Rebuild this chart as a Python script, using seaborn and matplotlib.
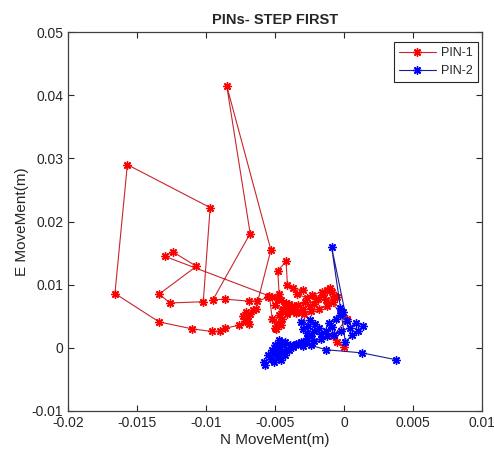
import numpy as np
import pandas as pd
import matplotlib
matplotlib.use('Agg')
import matplotlib.pyplot as plt
import seaborn as sns

# PIN-1 track (N, E in metres)
pin1_n = [-0.0040, -0.0043, -0.0038, -0.0045, -0.0041, -0.0035, -0.0030, -0.0033,
          -0.0028, -0.0025, -0.0022, -0.0019, -0.0023, -0.0016, -0.0012, -0.0010,
          -0.0007, -0.0013, -0.0020, -0.0027, -0.0034, -0.0030, -0.0037, -0.0041,
          -0.0042, -0.0048, -0.0047, -0.0052, -0.0046, -0.0050, -0.0044, -0.0047,
          -0.0045, -0.0048, -0.0050, -0.0046, -0.0049, -0.0052, -0.0054, -0.0130,
          -0.0124, -0.0107, -0.0134, -0.0126, -0.0102, -0.0097, -0.0157, -0.0166,
          -0.0134, -0.0110, -0.0096, -0.0090, -0.0086, -0.0076, -0.0069, -0.0070,
          -0.0073, -0.0071, -0.0068, -0.0070, -0.0072, -0.0066, -0.0064, -0.0053,
          -0.0085, -0.0068, -0.0095, -0.0086, -0.0069, -0.0063, -0.0055, -0.0048,
          -0.0042, -0.0036, -0.0039, -0.0033, -0.0029, -0.0024, -0.0018, -0.0012,
          -0.0008, -0.0005, -0.0009, -0.0015, 0.0002, -0.0008, 0.0000, -0.0005]
pin1_e = [0.0070, 0.0065, 0.0060, 0.0058, 0.0053, 0.0055, 0.0062, 0.0068,
          0.0072, 0.0066, 0.0070, 0.0078, 0.0083, 0.0089, 0.0092, 0.0095,
          0.0082, 0.0075, 0.0077, 0.0079, 0.0085, 0.0092, 0.0094, 0.0100,
          0.0137, 0.0122, 0.0085, 0.0080, 0.0075, 0.0068, 0.0062, 0.0052,
          0.0046, 0.0040, 0.0032, 0.0036, 0.0030, 0.0045, 0.0082, 0.0145,
          0.0152, 0.0129, 0.0085, 0.0071, 0.0073, 0.0222, 0.0290, 0.0086,
          0.0041, 0.0030, 0.0026, 0.0026, 0.0031, 0.0036, 0.0037, 0.0045,
          0.0051, 0.0056, 0.0053, 0.0048, 0.0043, 0.0060, 0.0061, 0.0155,
          0.0415, 0.0181, 0.0076, 0.0077, 0.0074, 0.0074, 0.0080, 0.0078,
          0.0071, 0.0066, 0.0059, 0.0057, 0.0053, 0.0058, 0.0062, 0.0066,
          0.0073, 0.0080, 0.0088, 0.0084, 0.0046, 0.0018, 0.0001, 0.0009]

# PIN-2 track
pin2_n = [-0.0057, -0.0058, -0.0053, -0.0055, -0.0050, -0.0052, -0.0048, -0.0050,
          -0.0046, -0.0047, -0.0043, -0.0045, -0.0042, -0.0046, -0.0048, -0.0051,
          -0.0046, -0.0043, -0.0040, -0.0039, -0.0035, -0.0031, -0.0027, -0.0024,
          -0.0027, -0.0030, -0.0026, -0.0031, -0.0025, -0.0021, -0.0018, -0.0022,
          -0.0017, -0.0013, -0.0009, -0.0011, -0.0006, -0.0003, -0.0003, -0.0001,
          0.0002, -0.0009, 0.0001, 0.0006, 0.0010, 0.0014, 0.0009, 0.0004,
          -0.0002, -0.0007, -0.0012, -0.0017, -0.0022, -0.0028, -0.0033, -0.0037,
          -0.0030, -0.0024, -0.0013, 0.0013, 0.0038]
pin2_e = [-0.0027, -0.0022, -0.0017, -0.0012, -0.0008, -0.0003, 0.0001, 0.0005,
          0.0009, 0.0013, 0.0010, 0.0004, -0.0002, -0.0006, -0.0014, -0.0022,
          -0.0019, -0.0011, -0.0004, 0.0004, 0.0006, 0.0010, 0.0015, 0.0019,
          0.0024, 0.0030, 0.0035, 0.0041, 0.0044, 0.0038, 0.0031, 0.0026,
          0.0022, 0.0027, 0.0033, 0.0040, 0.0046, 0.0052, 0.0063, 0.0057,
          0.0043, 0.0160, 0.0009, 0.0021, 0.0027, 0.0035, 0.0040, 0.0032,
          0.0026, 0.0021, 0.0018, 0.0014, 0.0011, 0.0009, 0.0006, 0.0002,
          0.0003, 0.0004, -0.0003, -0.0008, -0.0019]

df1 = pd.DataFrame({'N': pin1_n, 'E': pin1_e})
df2 = pd.DataFrame({'N': pin2_n, 'E': pin2_e})

sns.set_style('white')
plt.rcParams['font.family'] = ['Liberation Sans', 'DejaVu Sans']

fig = plt.figure(figsize=(4.94, 4.61), dpi=100)
ax = fig.add_axes([0.1377, 0.1085, 0.838, 0.822])

star = (8, 2, 0)
sns.lineplot(data=df1, x='N', y='E', sort=False, estimator=None, ax=ax,
             color='#c8262c', linewidth=0.8, marker=star, markersize=6,
             markeredgecolor='red', markeredgewidth=1.0, label='PIN-1')
sns.lineplot(data=df2, x='N', y='E', sort=False, estimator=None, ax=ax,
             color='#1c1c96', linewidth=0.8, marker=star, markersize=6,
             markeredgecolor='blue', markeredgewidth=1.0, label='PIN-2')

ax.set_xlim(-0.02, 0.01)
ax.set_ylim(-0.01, 0.05)
ax.set_xticks(np.arange(-0.02, 0.0101, 0.005))
ax.set_xticklabels(['-0.02', '-0.015', '-0.01', '-0.005', '0', '0.005', '0.01'])
ax.set_yticks(np.arange(-0.01, 0.0501, 0.01))
ax.set_yticklabels(['-0.01', '0', '0.01', '0.02', '0.03', '0.04', '0.05'])
ax.tick_params(direction='in', length=4, width=0.8, colors='#262626',
               labelsize=10, top=True, right=True, bottom=True, left=True)
for s in ax.spines.values():
    s.set_color('#404040')
    s.set_linewidth(0.9)

ax.set_xlabel('N MoveMent(m)', fontsize=11, color='#262626', labelpad=2)
ax.set_ylabel('E MoveMent(m)', fontsize=11, color='#262626', labelpad=2)
ax.set_title('PINs- STEP FIRST', fontsize=10.5, fontweight='bold', pad=6)

leg = ax.legend(loc='upper right', bbox_to_anchor=(0.99, 0.974), fontsize=9,
                frameon=True, fancybox=False, edgecolor='#262626',
                framealpha=1, handlelength=3, borderaxespad=0,
                handletextpad=0.4)
leg.get_frame().set_linewidth(0.8)

fig.savefig('out.png', dpi=100)
